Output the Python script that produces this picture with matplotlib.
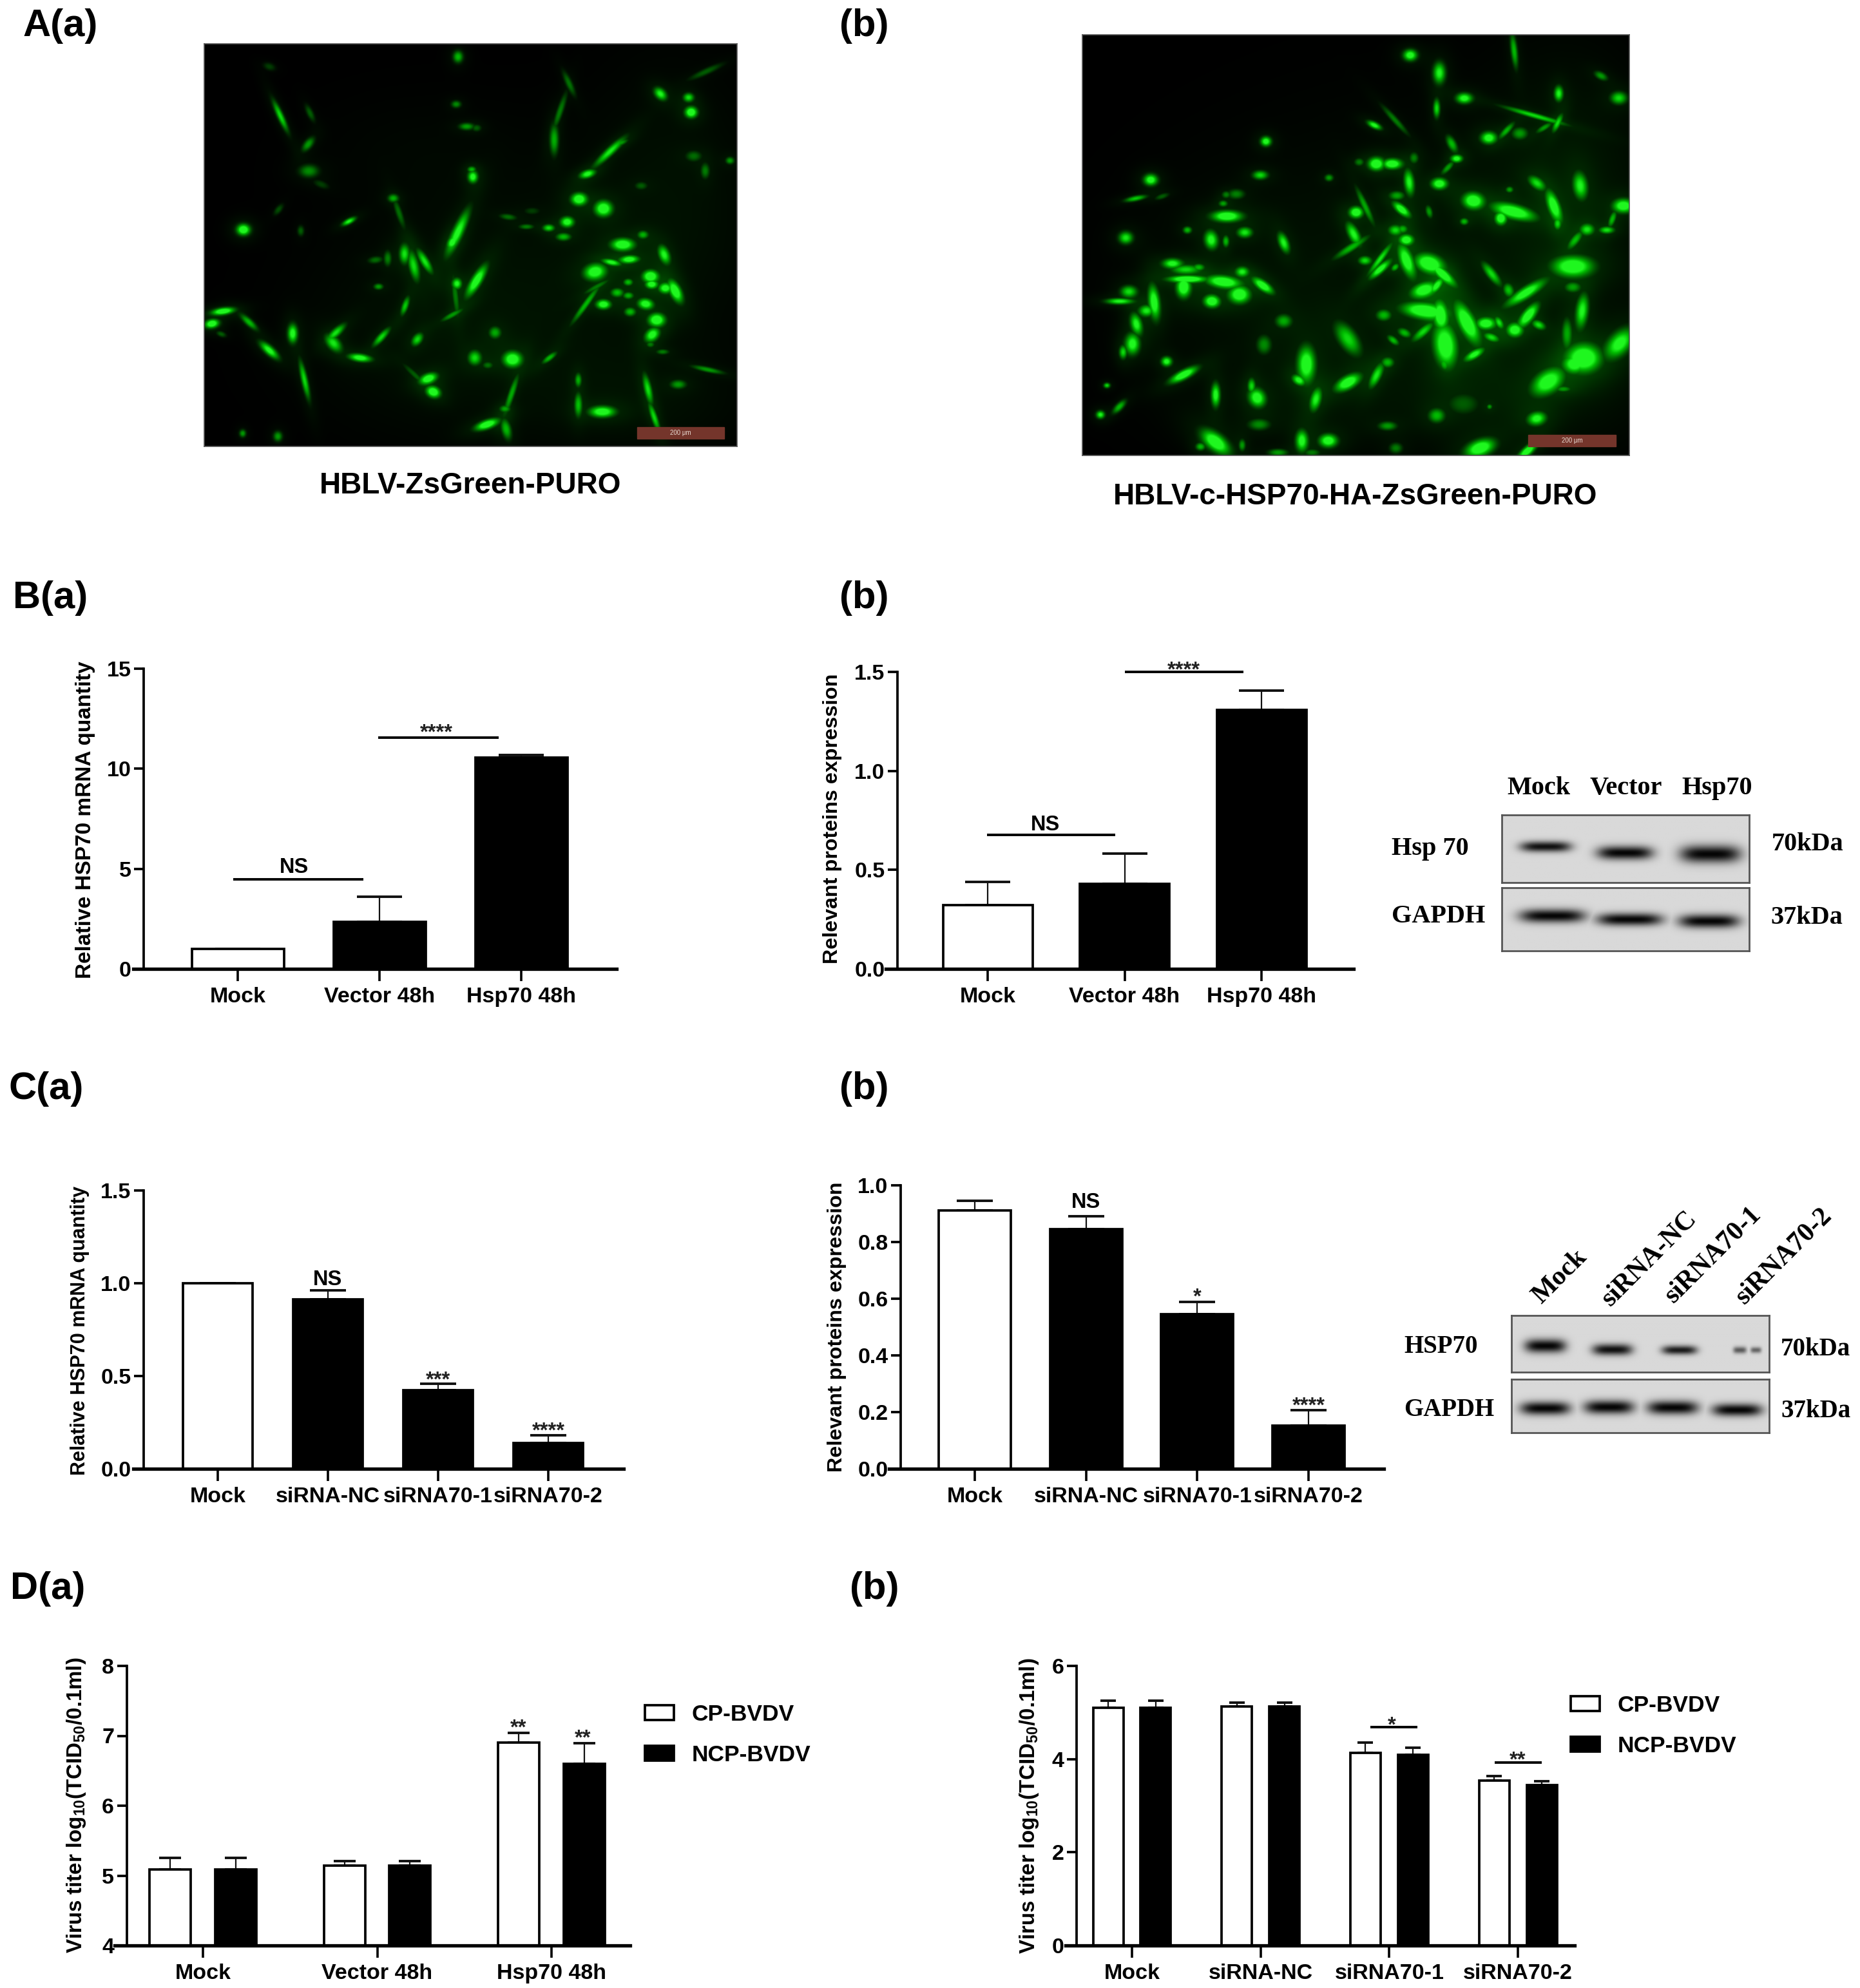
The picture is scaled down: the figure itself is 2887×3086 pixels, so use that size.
import numpy as np
import matplotlib
matplotlib.use("Agg")
import matplotlib.pyplot as plt
from matplotlib.patches import Patch, Rectangle

plt.rcParams['font.family'] = ['Liberation Sans', 'DejaVu Sans']
plt.rcParams['font.weight'] = 'bold'
plt.rcParams['mathtext.fontset'] = 'custom'
plt.rcParams['mathtext.bf'] = 'Liberation Sans:bold'
plt.rcParams['mathtext.rm'] = 'Liberation Sans:bold'
plt.rcParams['mathtext.default'] = 'bf'

W, H = 2887, 3086
FS = 24.5

# ---------------- chart data ----------------
ba_labels = ['Mock', 'Vector 48h', 'Hsp70 48h']
ba_vals = [1.0, 2.34, 10.56]
ba_tops = [1.0, 3.6, 10.7]
ba_fill = ['white', 'black', 'black']

bb_labels = ['Mock', 'Vector 48h', 'Hsp70 48h']
bb_vals = [0.323, 0.43, 1.308]
bb_tops = [0.44, 0.583, 1.406]
bb_fill = ['white', 'black', 'black']

ca_labels = ['Mock', 'siRNA-NC', 'siRNA70-1', 'siRNA70-2']
ca_vals = [1.0, 0.914, 0.424, 0.139]
ca_tops = [1.0, 0.962, 0.46, 0.18]
ca_fill = ['white', 'black', 'black', 'black']

cb_labels = ['Mock', 'siRNA-NC', 'siRNA70-1', 'siRNA70-2']
cb_vals = [0.911, 0.846, 0.546, 0.153]
cb_tops = [0.945, 0.89, 0.588, 0.207]
cb_fill = ['white', 'black', 'black', 'black']

da_labels = ['Mock', 'Vector 48h', 'Hsp70 48h']
da_cp = [5.09, 5.14, 6.90]
da_cp_top = [5.25, 5.21, 7.04]
da_ncp = [5.09, 5.14, 6.60]
da_ncp_top = [5.25, 5.21, 6.89]

db_labels = ['Mock', 'siRNA-NC', 'siRNA70-1', 'siRNA70-2']
db_cp = [5.10, 5.13, 4.13, 3.54]
db_cp_top = [5.25, 5.21, 4.36, 3.63]
db_ncp = [5.10, 5.13, 4.09, 3.44]
db_ncp_top = [5.25, 5.21, 4.24, 3.52]

# significance: text, x (category units), y (value)
ba_marks = [('NS', 0.40, 5.08), ('****', 1.40, 12.1)]
ba_lines = [(-0.03, 0.886, 4.49), (0.99, 1.84, 11.55)]
bb_marks = [('NS', 0.42, 0.727), ('****', 1.43, 1.537)]
bb_lines = [(-0.005, 0.93, 0.676), (1.0, 1.87, 1.5)]
ca_marks = [('NS', 1, 1.018), ('***', 2, 0.507), ('****', 3, 0.233)]
cb_marks = [('NS', 1, 0.939), ('*', 2, 0.625), ('****', 3, 0.243)]
da_marks = [('**', 1.81, 7.19), ('**', 2.18, 7.05)]
db_marks = [('*', 2.02, 4.84), ('**', 3.0, 4.10)]
db_lines = [(1.855, 2.216, 4.68), (2.817, 3.183, 3.93)]

# ---------------- micrograph cells: x, y, half length, half width, angle, brightness ----------------
img_a_cells = [
 (235,285,38,6,70,.7),(315,275,20,6,70,.3),(310,380,18,8,-60,.5),(312,470,18,14,0,.45),(345,515,16,8,30,.2),
 (205,118,12,8,30,.2),(715,85,14,9,90,.6),(710,245,9,8,0,.45),(738,320,14,8,0,.5),(765,325,9,8,0,.3),
 (1262,210,16,10,60,.8),(1338,222,10,10,0,.7),(1345,272,12,13,0,1),(1385,135,35,7,-30,.3),(1015,175,30,5,70,.35),
 (975,365,35,8,90,.55),(990,270,45,4,-75,.4),(1125,405,42,8,-50,.75),(1155,375,15,5,-30,.5),(1065,480,16,9,-25,.85),
 (755,490,14,9,90,.85),(752,465,8,7,0,.6),(540,562,10,9,0,.55),(555,610,35,5,75,.35),(230,600,14,6,-60,.25),
 (135,668,13,13,0,1),(420,640,15,6,-35,.8),(290,672,12,5,90,.3),(1042,565,15,14,0,1),(1108,597,17,18,0,1),
 (1010,642,13,12,0,.9),(960,662,11,8,0,.7),(1000,692,14,9,0,.6),(900,658,14,3,0,.4),(850,625,16,7,10,.35),
 (915,605,15,8,0,.2),(715,675,55,10,-70,.8),(700,710,18,9,-70,.9),(570,750,22,9,90,.7),(525,765,18,7,90,.4),
 (492,770,14,8,-10,.35),(595,790,35,9,80,.7),(625,775,30,8,65,.75),(1215,685,10,9,0,.55),(1160,718,22,14,0,1),
 (1178,768,18,9,-5,.9),(1130,778,18,7,15,.8),(1272,752,22,10,75,.8),(1085,810,22,18,-30,.95),(1235,825,15,14,0,1),
 (1238,852,12,10,0,.9),(1175,845,9,8,0,.6),(1145,880,12,10,0,.6),(1175,890,10,8,0,.55),(1275,865,13,12,0,.85),
 (1302,875,28,11,70,1),(1222,918,15,12,20,.9),(1108,920,14,11,0,.95),(1180,945,11,10,0,.6),(1252,972,16,15,0,1),
 (1240,1022,18,12,-60,.9),(1268,1080,12,5,0,.4),(1235,1055,8,7,0,.4),(1060,920,50,5,-60,.6),(1090,860,30,5,-35,.4),
 (765,840,40,10,-65,.95),(712,850,13,9,90,.8),(708,890,50,4,85,.4),(700,955,25,5,-35,.5),(572,925,22,6,-75,.65),
 (500,860,9,7,0,.5),(150,980,22,7,50,.6),(80,943,22,8,-10,1),(50,985,14,10,-20,1),(75,1020,10,6,30,.3),
 (268,1018,22,9,90,.85),(205,1075,25,9,50,.85),(385,1015,25,8,-50,.7),(378,1050,22,12,60,.75),(508,1030,25,7,-55,.7),
 (605,1038,16,9,-65,.7),(450,1100,22,9,10,.9),(815,1015,14,11,90,.55),(760,1100,17,12,90,.7),(795,1125,10,8,0,.35),
 (862,1105,18,18,0,1),(962,1100,18,5,-45,.6),(300,1175,45,6,80,.7),(635,1170,18,11,-30,.95),(648,1215,15,12,50,1),
 (600,1160,35,4,50,.3),(860,1220,45,5,-75,.55),(842,1272,10,8,0,.5),(793,1325,24,10,-25,1),(845,1340,25,9,80,.6),
 (1040,1175,16,6,90,.55),(1040,1258,28,7,90,.6),(1105,1282,25,13,0,.95),(1228,1205,35,7,80,.7),(1245,1300,35,6,75,.7),
 (1310,1190,15,10,0,.5),(1390,1140,30,5,15,.5),(133,1355,9,6,90,.5),(228,1365,12,8,90,.5),(1450,435,8,8,0,.5),
 (1383,470,18,8,90,.4),(1352,420,15,12,0,.35),(1210,520,12,9,0,.3),
]
img_a_haze = [(950,850,480,420,0,.055),(1300,500,220,420,0,.05),(650,1050,350,300,0,.045),(1200,1250,300,180,0,.05),(600,400,300,200,0,.02)]

img_b_cells = [
 (935,120,13,13,0,.9),(1012,180,25,11,90,.8),(1210,105,40,6,85,.6),(1005,300,22,6,90,.7),(1078,266,15,12,0,.85),
 (1328,250,18,8,90,.8),(1487,265,15,14,0,.7),(1440,190,14,8,40,.5),(1265,325,60,6,20,.7),(1325,350,22,6,-70,.7),
 (1290,365,18,6,-40,.5),(1190,375,22,6,-55,.55),(1143,400,15,14,0,.9),(1225,385,15,14,0,.5),(840,357,15,7,35,.85),
 (895,340,40,5,55,.4),(1045,420,20,8,70,.6),(553,412,10,11,0,.9),(845,488,15,14,90,1),(887,488,18,12,0,1),
 (800,482,9,9,0,.4),(945,468,13,8,90,.4),(1058,470,11,9,0,.85),(1035,500,18,6,-55,.5),(538,526,14,10,0,.7),
 (720,535,8,8,0,.5),(248,542,13,13,0,.9),(208,605,20,6,-15,.65),(278,598,14,4,-25,.3),(475,590,15,11,0,.4),
 (448,592,8,8,0,.4),(440,622,8,7,0,.5),(932,550,30,9,85,.8),(1012,555,15,13,0,.95),(1270,553,20,11,50,.7),
 (1385,562,32,13,85,.8),(1198,575,7,7,0,.5),(1315,630,38,11,75,.95),(1102,613,20,18,40,1),(1210,650,42,16,20,1),
 (1175,672,16,11,90,1),(1500,630,20,16,0,.95),(900,595,14,10,0,.5),(912,642,22,9,50,.95),(985,650,15,6,80,.5),
 (815,630,45,6,70,.5),(792,652,13,13,0,1),(450,665,28,13,0,1),(345,712,8,8,0,.6),(497,720,14,12,0,.75),
 (408,745,22,12,85,.85),(447,750,14,5,90,.6),(182,738,13,14,0,.75),(600,755,24,9,75,.8),(785,725,28,10,70,.8),
 (895,712,12,11,0,.6),(915,708,9,9,0,.5),(925,745,13,12,0,.9),(1078,683,8,8,0,.6),(1325,690,15,7,90,.7),
 (1403,710,13,13,0,.7),(1455,712,14,8,0,.7),(1470,675,20,5,-75,.6),(1372,745,24,8,-60,.6),(780,770,40,8,-40,.6),
 (815,815,12,10,0,.7),(855,810,40,5,-60,.7),(855,845,28,8,-50,.9),(925,815,40,12,75,.9),(895,838,10,6,-60,.6),
 (985,825,28,20,30,1),(1020,860,35,10,50,.9),(305,825,18,11,0,.8),(340,845,26,10,0,.6),(375,838,11,8,0,.55),
 (490,853,12,11,0,.7),(345,878,35,8,0,1),(335,905,25,13,90,1),(440,887,32,14,10,1),(545,900,25,10,45,.95),
 (483,930,20,20,0,1),(410,953,15,15,-40,1),(190,920,15,13,0,.7),(165,953,25,7,0,.8),(257,955,40,10,85,.9),
 (237,985,14,13,0,.75),(210,1030,25,10,80,.8),(200,1097,25,13,90,.85),(175,1125,16,7,90,.7),(290,1157,10,11,0,.85),
 (335,1202,30,10,-35,1),(132,1238,6,6,0,.7),(165,1310,18,7,-55,.6),(115,1337,8,9,0,.8),(1150,860,30,9,60,.7),
 (1195,915,16,9,80,.6),(1240,925,45,12,-40,.9),(1365,835,38,24,0,1),(1365,905,15,12,0,.5),(970,915,25,16,-30,.9),
 (1005,900,22,8,-60,.8),(970,985,40,18,10,1),(1015,1000,35,13,85,.95),(1085,1025,50,15,70,1),(1135,1028,18,14,0,.95),
 (1170,1025,15,7,70,.7),(1248,1000,32,11,-60,.95),(1275,1033,14,9,40,.7),(1212,1050,17,15,90,.95),(1150,1075,16,9,30,.7),
 (1105,1133,22,9,-40,.85),(1028,1100,52,21,85,1),(1025,1165,16,8,80,.6),(970,1055,28,9,-50,.7),(920,1060,14,9,40,.6),
 (890,1085,14,7,50,.6),(865,1000,14,13,0,.6),(770,1080,40,17,65,.7),(600,1020,15,15,0,.55),(548,1100,22,13,90,.45),
 (660,1165,42,16,90,.95),(640,1220,15,10,50,.85),(770,1228,28,14,-40,1),(845,1205,30,9,-70,.75),(875,1160,12,12,0,.6),
 (685,1285,28,10,-80,.8),(530,1280,22,15,80,.9),(515,1240,18,7,90,.7),(420,1270,28,8,-90,.85),(1390,985,40,11,-85,.8),
 (1350,1060,35,9,90,.5),(1490,1095,38,20,-60,.85),(1395,1145,32,32,0,1),(1370,1165,22,22,0,.9),(1300,1225,38,23,-50,.95),
 (1340,1250,15,7,0,.5),(1270,1350,18,15,-30,.85),(1005,1340,15,16,0,.6),(875,1375,17,10,0,.5),(535,1370,20,13,0,.45),
 (420,1430,35,17,50,1),(380,1445,9,9,0,.6),(490,1440,14,5,90,.5),(648,1425,25,11,90,.85),(718,1425,17,15,0,.95),
 (897,1450,12,12,0,.4),(1120,1450,30,18,-30,1),(1245,1460,25,9,-50,1),(585,1465,18,8,0,.5),(675,1465,15,8,0,.4),
 (1075,1300,30,25,0,.3),(1145,1310,5,5,0,.5),
]
img_b_haze = [(1000,800,520,480,0,.07),(1350,500,200,400,0,.07),(450,900,300,350,0,.04),(1250,1250,300,220,0,.07),(700,1300,350,180,0,.05)]

# ---------------- blot bands: x, y, half width, half height, darkness ----------------
blot_b1_bands = [(1100,947,42,22,.95),(1218,968,46,28,1),(1345,972,50,36,1)]
blot_b2_bands = [(1110,1180,54,28,1),(1225,1192,54,26,1),(1343,1198,50,28,1)]
blot_c1_bands = [(1100,812,34,36,1),(1200,828,33,30,.95),(1300,830,29,24,.9),(1390,830,11,18,.6),(1414,830,9,16,.55)]
blot_c2_bands = [(1100,1083,41,35,1),(1195,1078,41,36,1),(1290,1080,42,36,1),(1386,1090,41,33,1)]

# ---------------- helpers ----------------
fig = plt.figure(figsize=(W / 100, H / 100), dpi=100, facecolor='white')


def add_ax(left, top, right, bottom):
    return fig.add_axes([left / W, 1 - bottom / H, (right - left) / W, (bottom - top) / H])


def T(x, y, s, **kw):
    kw.setdefault('ha', 'left')
    kw.setdefault('va', 'center')
    kw.setdefault('fontsize', FS)
    return fig.text(x / W, 1 - y / H, s, **kw)


def chart(left, spine, right, top, bottom, p0, d, n, ylim, yticks, ytl, labels, ylabel, yl_x, yl_y, yfs=24):
    ax = add_ax(left, top, right, bottom)
    ax.set_xlim((left - p0) / d, (right - p0) / d)
    ax.set_ylim(*ylim)
    ax.patch.set_alpha(0)
    for s in ('top', 'right'):
        ax.spines[s].set_visible(False)
    ax.spines['left'].set_position(('axes', (spine - left) / (right - left)))
    ax.spines['left'].set_linewidth(2.7)
    ax.spines['bottom'].set_linewidth(3.8)
    ax.set_xticks(range(n))
    ax.set_xticklabels(labels, fontsize=FS)
    ax.set_yticks(yticks)
    ax.set_yticklabels(ytl, fontsize=FS)
    ax.tick_params(axis='x', length=14, width=2.6, pad=6.5)
    ax.tick_params(axis='y', length=11, width=2.7, pad=3)
    T(yl_x, yl_y, ylabel, rotation=90, ha='center', va='center', fontsize=yfs)
    return ax


def bars(ax, x, vals, tops, fills, width, cap, base):
    v = np.array(vals, float)
    t = np.array(tops, float)
    ax.errorbar(x, v, yerr=[np.zeros_like(v), t - v], fmt='none', ecolor='#111111', elinewidth=1.6,
                capsize=cap, capthick=2.8, zorder=1, clip_on=False)
    ax.bar(x, v - base, width=width, bottom=base, color=fills, edgecolor='black', linewidth=2.7, zorder=2)


def marks(ax, items, lines=()):
    for s, x, y in items:
        if set(s) == {'*'}:
            ax.annotate(s, (x, y), xytext=(0, -13), textcoords='offset points', ha='center', va='baseline',
                        fontsize=23.5, color='#222222', annotation_clip=False)
        else:
            ax.text(x, y, s, ha='center', va='center', fontsize=23.5, clip_on=False)
    for x0, x1, y in lines:
        ax.plot([x0, x1], [y, y], color='black', lw=2.8, solid_capstyle='butt', clip_on=False)


def micrograph(box, zbox, cells, haze, bar):
    ax = add_ax(*box)
    zl, zt, zr, zb = zbox
    xs = np.arange(zl, zr, 2.0)
    ys = np.arange(zt, zb, 2.0)
    X, Y = np.meshgrid(xs, ys)
    v = np.zeros_like(X)
    for cx, cy, a, b, ang, br in list(haze):
        r2 = ((X - cx) / a) ** 2 + ((Y - cy) / b) ** 2
        v += br * np.exp(-r2)
    for cx, cy, a, b, ang, br in list(cells):
        t = np.deg2rad(ang)
        u = (X - cx) * np.cos(t) + (Y - cy) * np.sin(t)
        w = -(X - cx) * np.sin(t) + (Y - cy) * np.cos(t)
        r2 = (u / (a * 1.3)) ** 2 + (w / (max(b, 6) * 1.35)) ** 2
        v = np.maximum(v, br * 1.15 * np.exp(-r2 ** 1.2)) + 0.10 * br * np.exp(-r2 / 6.0)
    g = np.clip(v, 0, 1)
    rgb = np.dstack([np.clip(g - .75, 0, 1) * .5, g * .97, np.clip(g - .75, 0, 1) * .5])
    ax.imshow(rgb, extent=(zl, zr, zb, zt), aspect='auto', interpolation='bilinear')
    ax.set_xticks([]); ax.set_yticks([])
    for s in ax.spines.values():
        s.set_color('#555555'); s.set_linewidth(1.2)
    bx0, by0, bx1, by1 = bar
    ax.add_patch(Rectangle((bx0, by0), bx1 - bx0, by1 - by0, color='#74352b', zorder=3))
    ax.text((bx0 + bx1) / 2, (by0 + by1) / 2, '200 μm', color='#e8d8d0', fontsize=7, ha='center', va='center',
            fontweight='normal', zorder=4)


def blot(zbox, toz, bands):
    zl, zt, zr, zb = zbox
    x0, y0, sx, sy = toz
    ax = add_ax(x0 + zl * sx, y0 + zt * sy, x0 + zr * sx, y0 + zb * sy)
    xs = np.linspace(zl, zr, 300)
    ys = np.linspace(zt, zb, 200)
    X, Y = np.meshgrid(xs, ys)
    d = np.zeros_like(X)
    for cx, cy, hw, hh, k in bands:
        r = ((X - cx) / hw) ** 4 + ((Y - cy) / hh) ** 2
        d = np.maximum(d, k * np.exp(-r * 1.5))
    img = 0.85 - 0.83 * d
    ax.imshow(img, extent=(zl, zr, zb, zt), aspect='auto', cmap='gray', vmin=0, vmax=1, interpolation='bilinear')
    ax.set_xticks([]); ax.set_yticks([])
    for s in ax.spines.values():
        s.set_color('#555555'); s.set_linewidth(2)


SER = dict(family=['Liberation Serif'], fontweight='bold', fontsize=29)

# ---------------- A: micrographs ----------------
micrograph((317, 68, 1144, 693), (30, 40, 1470, 1400), img_a_cells, img_a_haze, (1200, 1335, 1435, 1373))
micrograph((1680, 54, 2529, 707), (68, 52, 1515, 1475), img_b_cells, img_b_haze, (1248, 1405, 1480, 1445))
T(730, 754, 'HBLV-ZsGreen-PURO', ha='center', fontsize=33)
T(2104, 771, 'HBLV-c-HSP70-HA-ZsGreen-PURO', ha='center', fontsize=33)

for x, y, s in [(36, 41, 'A(a)'), (1303, 41, '(b)'), (20, 928, 'B(a)'), (1303, 928, '(b)'),
                (14, 1690, 'C(a)'), (1303, 1691, '(b)'), (16, 2466, 'D(a)'), (1319, 2466, '(b)')]:
    T(x, y, s, fontsize=43)

# ---------------- B(a) ----------------
ax = chart(207, 223, 957, 1038, 1504, 369, 220, 3, (0, 15), [0, 5, 10, 15], ['0', '5', '10', '15'],
           ba_labels, 'Relative HSP70 mRNA quantity', 133, 1273)
bars(ax, np.arange(3), ba_vals, ba_tops, ba_fill, 143 / 220, 25, 0)
marks(ax, ba_marks, ba_lines)

# ---------------- B(b) ----------------
ax = chart(1375, 1393, 2101, 1043, 1504, 1533, 212.5, 3, (0, 1.5), [0, .5, 1, 1.5], ['0.0', '0.5', '1.0', '1.5'],
           bb_labels, 'Relevant proteins expression', 1292, 1271, 23.2)
bars(ax, np.arange(3), bb_vals, bb_tops, bb_fill, 139 / 212.5, 25, 0)
marks(ax, bb_marks, bb_lines)

tz_b = (1250, 880, 1637 / 1568, 720 / 1568)
blot((1035, 838, 1403, 1068), tz_b, blot_b1_bands)
blot((1035, 1085, 1403, 1298), tz_b, blot_b2_bands)
for x, y, s in [(2388, 1224, 'Mock'), (2524, 1224, 'Vector'), (2665, 1224, 'Hsp70')]:
    T(x, y, s, ha='center', **SER)
for x, y, s in [(2160, 1318, 'Hsp 70'), (2160, 1422, 'GAPDH'), (2750, 1311, '70kDa'), (2748, 1424, '37kDa')]:
    T(x, y, s, **SER)

# ---------------- C(a) ----------------
ax = chart(207, 223, 968, 1848, 2280, 338, 171, 4, (0, 1.5), [0, .5, 1, 1.5], ['0.0', '0.5', '1.0', '1.5'],
           ca_labels, 'Relative HSP70 mRNA quantity', 124, 2065, 22)
bars(ax, np.arange(4), ca_vals, ca_tops, ca_fill, 108 / 171, 20, 0)
marks(ax, ca_marks)

# ---------------- C(b) ----------------
ax = chart(1380, 1398, 2148, 1840, 2280, 1513, 172.7, 4, (0, 1), [0, .2, .4, .6, .8, 1],
           ['0.0', '0.2', '0.4', '0.6', '0.8', '1.0'],
           cb_labels, 'Relevant proteins expression', 1299, 2060, 23.2)
bars(ax, np.arange(4), cb_vals, cb_tops, cb_fill, 112 / 172.7, 20, 0)
marks(ax, cb_marks)

tz_c = (1250, 1800, 1637 / 1568, 560 / 1568)
blot((1050, 678, 1433, 925), tz_c, blot_c1_bands)
blot((1050, 955, 1433, 1188), tz_c, blot_c2_bands)
for x, y, s in [(2421, 1982, 'Mock'), (2560, 1954, 'siRNA-NC'), (2659, 1948, 'siRNA70-1'), (2769, 1950, 'siRNA70-2')]:
    T(x, y, s, ha='center', rotation=45, rotation_mode='anchor', family=['Liberation Serif'],
      fontweight='bold', fontsize=30)
for x, y, s in [(2179, 2091, 'HSP70'), (2179, 2189, 'GAPDH'), (2764, 2095, '70kDa'), (2764, 2191, '37kDa')]:
    T(x, y, s, **dict(SER, fontsize=28))

# ---------------- D(a) ----------------
yl_d = 'Virus titer log$_{10}$(TCID$_{50}$/0.1ml)'
ax = chart(178, 196.5, 978, 2586, 3020, 315, 270.5, 3, (4, 8), [4, 5, 6, 7, 8], ['4', '5', '6', '7', '8'],
           da_labels, yl_d, 119, 2802, 23.8)
g = np.arange(3)
bars(ax, g - .188, da_cp, da_cp_top, ['white'] * 3, 64 / 270.5, 12, 4)
bars(ax, g + .188, da_ncp, da_ncp_top, ['black'] * 3, 64 / 270.5, 12, 4)
marks(ax, da_marks)


def legend(x, y):
    fig.legend(handles=[Patch(facecolor='white', edgecolor='black', linewidth=2.7, label='CP-BVDV'),
                        Patch(facecolor='black', edgecolor='black', linewidth=2.7, label='NCP-BVDV')],
               loc='upper left', bbox_to_anchor=(x / W, 1 - y / H), frameon=False, fontsize=25.5, borderpad=0,
               borderaxespad=0, handlelength=1.27, handleheight=.64, handletextpad=.78, labelspacing=.84)


legend(1001, 2645)

# ---------------- D(b) ----------------
ax = chart(1654, 1671, 2444, 2586, 3020, 1757, 199.7, 4, (0, 6), [0, 2, 4, 6], ['0', '2', '4', '6'],
           db_labels, yl_d, 1597, 2803, 23.8)
g = np.arange(4)
bars(ax, g - .185, db_cp, db_cp_top, ['white'] * 4, 47 / 199.7, 8.4, 0)
bars(ax, g + .185, db_ncp, db_ncp_top, ['black'] * 4, 47 / 199.7, 8.4, 0)
marks(ax, db_marks, db_lines)
legend(2438, 2631)

fig.savefig('out.png', dpi=100, facecolor='white')
